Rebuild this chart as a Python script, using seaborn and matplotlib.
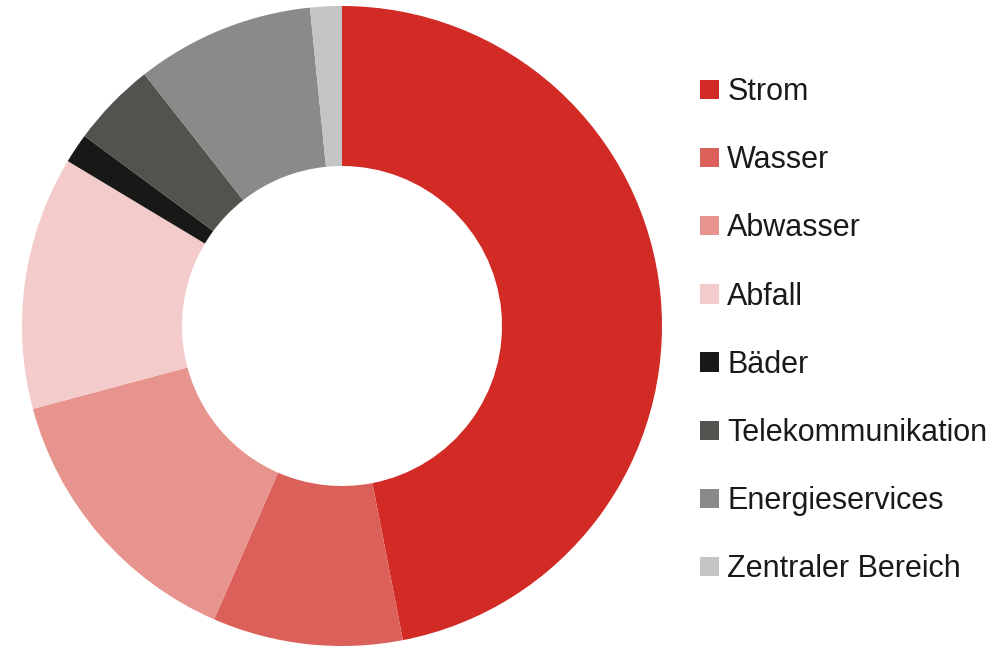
import matplotlib
matplotlib.use("Agg")
import matplotlib.pyplot as plt
import seaborn as sns
from matplotlib.patches import Patch

categories = ["Strom", "Wasser", "Abwasser", "Abfall", "Bäder",
              "Telekommunikation", "Energieservices", "Zentraler Bereich"]
values = [47.0, 9.6, 14.3, 12.8, 1.5, 4.3, 9.0, 1.6]
colors = ["#D22A24", "#DC605A", "#E8948E", "#F3CBCA", "#181816",
          "#52524F", "#8A8A88", "#C4C4C4"]

sns.set_theme(style="white")
plt.rcParams["font.family"] = ["Liberation Sans", "DejaVu Sans"]

fig = plt.figure(figsize=(10, 6.48), dpi=100)
ax = fig.add_axes([22 / 1000, 2 / 648, 640 / 1000, 640 / 648])
ax.pie(values, colors=colors, startangle=90, counterclock=False,
       radius=1.0, wedgeprops=dict(width=0.5, linewidth=0))
ax.set_xlim(-1, 1)
ax.set_ylim(-1, 1)
ax.set_aspect("equal")
ax.axis("off")

handles = [Patch(facecolor=c, edgecolor="none", label=l) for c, l in zip(colors, categories)]
leg = fig.legend(handles=handles, loc="upper left", bbox_to_anchor=(0.688, 0.9),
                 frameon=False, fontsize=22, handlelength=0.6, handleheight=0.6,
                 handletextpad=0.28, labelspacing=1.25, borderaxespad=0)
for t in leg.get_texts():
    t.set_color("#1a1a1a")

fig.savefig("out.png", dpi=100)
